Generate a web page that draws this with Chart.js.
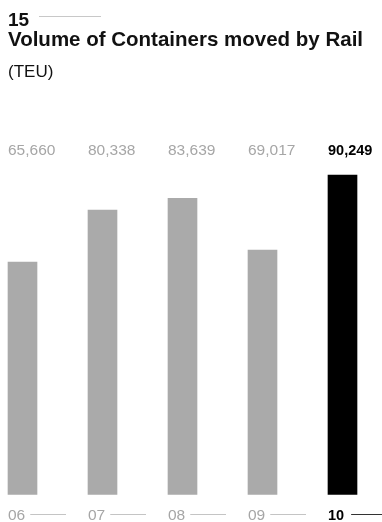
<!DOCTYPE html>
<html><head><meta charset="utf-8">
<script src="https://cdn.jsdelivr.net/npm/chart.js@4.4.1/dist/chart.umd.min.js"></script>
<style>
html,body{margin:0;padding:0;background:#fff;}
#wrap{position:relative;width:382px;height:522px;overflow:hidden;font-family:"Liberation Sans",Arial,sans-serif;}
#wrap canvas{position:absolute;left:0;top:0;}
.t{position:absolute;left:8px;line-height:1;white-space:nowrap;color:#111;}
#num{top:9.5px;font-size:19px;font-weight:bold;}
#rule{position:absolute;left:39px;top:15.5px;width:62px;height:1px;background:#c8c8c8;}
#title{top:29.3px;font-size:20.5px;font-weight:bold;}
#unit{top:63px;font-size:17px;}
</style></head>
<body>
<div id="wrap">
<canvas id="c" width="382" height="522"></canvas>
<div class="t" id="num">15</div><div id="rule"></div>
<div class="t" id="title">Volume of Containers moved by Rail</div>
<div class="t" id="unit">(TEU)</div>
</div>
<script>
// Fiscal years and containers moved by rail (TEU)
const years = ['06', '07', '08', '09', '10'];
const volumes = [65660, 80338, 83639, 69017, 90249];
const currentYear = '10';

const GREY_BAR = '#aaaaaa';
const GREY_TEXT = '#a6a6a6';
const GREY_RULE = '#c4c4c4';
const DARK = '#000000';
const FONT = '"Liberation Sans", Arial, sans-serif';

const isCurrent = y => y === currentYear;

// Value above each bar and year label with a short rule beneath it
const barLabels = {
  id: 'barLabels',
  afterDatasetsDraw(chart) {
    const ctx = chart.ctx;
    const meta = chart.getDatasetMeta(0);
    ctx.save();
    ctx.textAlign = 'left';
    ctx.textBaseline = 'alphabetic';
    meta.data.forEach((bar, i) => {
      const left = bar.x - bar.width / 2;
      const cur = isCurrent(years[i]);
      // value
      ctx.fillStyle = cur ? DARK : GREY_TEXT;
      ctx.font = (cur ? 'bold 14.5px ' : '15.5px ') + FONT;
      ctx.fillText(volumes[i].toLocaleString('en-US'), left, 155);
      // year
      ctx.font = (cur ? 'bold 14.5px ' : '15.5px ') + FONT;
      ctx.fillText(years[i], left, 519.5);
      const w = ctx.measureText(years[i]).width;
      ctx.strokeStyle = cur ? '#333333' : GREY_RULE;
      ctx.lineWidth = 1;
      ctx.beginPath();
      ctx.moveTo(left + w + (cur ? 7 : 5), 514.5);
      ctx.lineTo(left + 58, 514.5);
      ctx.stroke();
    });
    ctx.restore();
  }
};

new Chart(document.getElementById('c'), {
  type: 'bar',
  data: {
    labels: years,
    datasets: [{
      data: volumes,
      backgroundColor: years.map(y => isCurrent(y) ? DARK : GREY_BAR),
      barThickness: 29,
      borderWidth: 0,
      clip: false
    }]
  },
  options: {
    responsive: false,
    animation: false,
    devicePixelRatio: 1,
    layout: { padding: { left: 22.5, right: 39.5, top: 140.5, bottom: 27.7 } },
    scales: {
      x: { display: false, offset: false },
      y: { display: false, min: 0, max: 100000 }
    },
    plugins: { legend: { display: false }, tooltip: { enabled: false } }
  },
  plugins: [barLabels]
});
</script>
</body></html>
